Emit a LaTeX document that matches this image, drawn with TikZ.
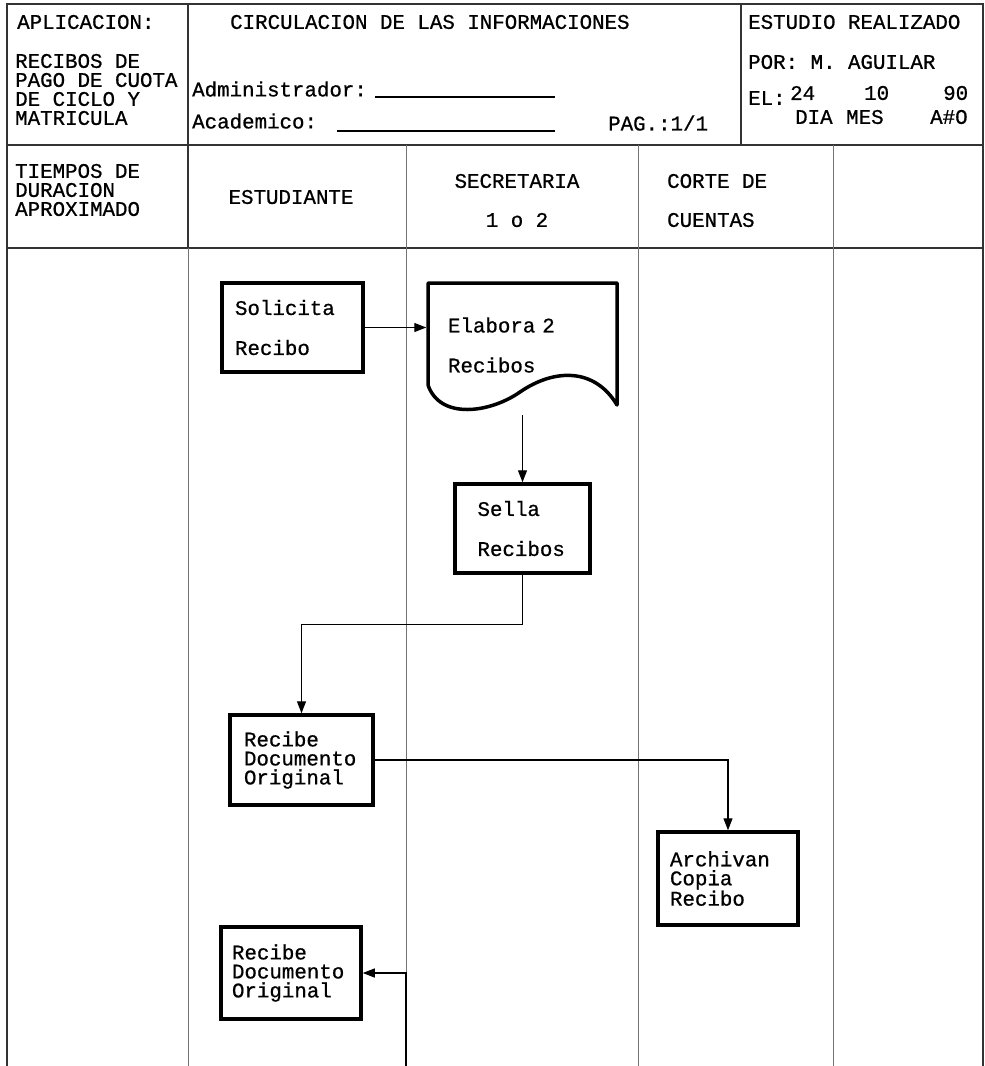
\documentclass[tikz,border=0pt]{standalone}
\usepackage{fontspec}
\newfontfamily\plotfont[FakeBold=0.7]{Liberation Mono}
\usetikzlibrary{arrows.meta,calc}
\begin{document}
\begin{tikzpicture}[x=1pt,y=-1pt,
  frameline/.style={draw=black!80,line width=1.4pt},
  laneline/.style={draw=black!55,line width=1pt},
  txt/.style={font=\plotfont\fontsize{20.8}{19}\selectfont,inner sep=0pt,align=left},
  procbox/.style={draw,line width=3.5pt,rectangle,align=left,inner ysep=0pt,font=\plotfont\fontsize{20.8}{40}\selectfont},
  tightbox/.style={procbox,font=\plotfont\fontsize{20.8}{19}\selectfont},
  flow/.style={line width=1.3pt,-{Triangle[length=12pt,width=9pt]}}]

\useasboundingbox (0,0) rectangle (985,1066);
\fill[white] (0,0) rectangle (985,1066);

% frame and lanes
\draw[frameline] (7,1066) -- (7,4) -- (983,4) -- (983,1066);
\draw[frameline] (7,145) -- (983,145);
\draw[frameline] (7,248) -- (983,248);
\draw[frameline] (188,4) -- (188,248);
\draw[frameline] (741,4) -- (741,145);
\draw[laneline] (188,248) -- (188,1066);
\draw[laneline] (406,145) -- (406,1066);
\draw[laneline] (638,145) -- (638,1066);
\draw[laneline] (833,145) -- (833,1066);

% header texts
\node[txt,anchor=west] (apl) at (17,22) {APLICACION:};
\node[txt,anchor=west] (circ) at (230,22) {CIRCULACION DE LAS INFORMACIONES};
\node[txt,anchor=west] (estr) at (748,22) {ESTUDIO REALIZADO};
\node[txt,anchor=west] (rec) at (15,89.5) {RECIBOS DE\\PAGO DE CUOTA\\DE CICLO Y\\MATRICULA};
\node[txt,anchor=west] (adm) at (192,89) {Administrador:};
\draw[line width=1.2pt] (375,97) -- (555,97);
\node[txt,anchor=west] (aca) at (192,121) {Academico:};
\draw[line width=1.2pt] (337,131) -- (555,131);
\node[txt,anchor=west] (pag) at (608,123) {PAG.:1/1};
\node[txt,anchor=west] (por) at (748,62) {POR: M. AGUILAR};
\node[txt,anchor=west] (el) at (748,98) {EL:};
\node[txt,anchor=west] (d24) at (790,93) {24};
\node[txt,anchor=west] (d10) at (864,93) {10};
\node[txt,anchor=west] (d90) at (943,93) {90};
\node[txt,anchor=west] (dia) at (795,117) {DIA};
\node[txt,anchor=west] (mes) at (846,117) {MES};
\node[txt,anchor=west] (ano) at (930,117) {A\#O};

% lane headers
\node[txt,anchor=west] (tie) at (15,190) {TIEMPOS DE\\DURACION\\APROXIMADO};
\node[txt] (estu) at (291,197) {ESTUDIANTE};
\node[txt] (sec) at (517,181) {SECRETARIA};
\node[txt] (uno) at (517,220) {1 o 2};
\node[txt,anchor=west] (cor) at (667,181) {CORTE DE};
\node[txt,anchor=west] (cue) at (667,220) {CUENTAS};

% process boxes
\node[procbox,minimum width=141pt,minimum height=89pt,inner xsep=13pt,text width=115pt] (sol) at (292.5,327.5) {Solicita\\Recibo};
\node[procbox,draw=none,minimum width=189pt,minimum height=124pt,inner xsep=20pt,text width=149pt] (elab) at (522.5,345) {Elabora 2\\Recibos};
\draw[line width=3.5pt,line join=round] (428,385) -- (428,283) -- (617,283) -- (617,405)
  .. controls (595,368) and (555,368) .. (520,392)
  .. controls (490,413) and (440,420) .. (428,385);
\node[procbox,minimum width=135pt,minimum height=89pt,inner xsep=22.5pt,text width=90pt] (sel) at (522.5,528.5) {Sella\\Recibos};
\node[tightbox,minimum width=143pt,minimum height=90pt,inner xsep=14pt,text width=115pt] (rb1) at (301.5,760) {Recibe\\Documento\\Original};
\node[tightbox,minimum width=140pt,minimum height=93pt,inner xsep=12pt,text width=116pt] (arc) at (728,878.5) {Archivan\\Copia\\Recibo};
\node[tightbox,minimum width=140pt,minimum height=92pt,inner xsep=11pt,text width=118pt] (rb2) at (291,973) {Recibe\\Documento\\Original};
\coordinate (from) at (406,1066);

% connectors
\draw[flow] (sol.east) -- (sol.east -| elab.west);
\draw[flow] ($(elab.south)+(0,6)$) -- (sel.north);
\draw[flow] (sel.south) -- ++(0,50) -| (rb1.north);
\draw[flow] (rb1.east) -| (arc.north);
\draw[flow] (from) |- (rb2.east);
\end{tikzpicture}
\end{document}
